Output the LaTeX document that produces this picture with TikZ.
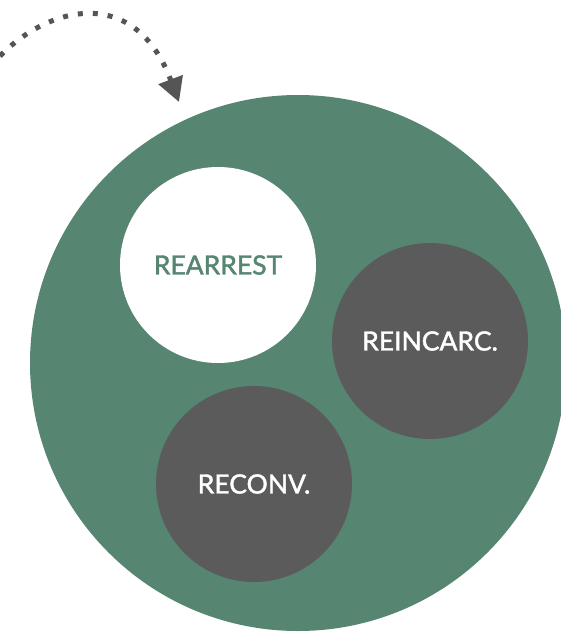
\documentclass[tikz,border=0pt]{standalone}
\usepackage{fontspec}
\setmainfont{Lato}
\newfontfamily\labelfont{Lato}[FakeBold=1.6]
\usetikzlibrary{arrows.meta}
\definecolor{poolgreen}{HTML}{568571}
\definecolor{darkgrey}{HTML}{5B5B5B}
\definecolor{arrowgrey}{HTML}{555555}
\tikzset{
    big/.style ={
        shape=circle,
        fill=poolgreen,
        minimum size=536pt,
        inner sep=0pt
    },
    light/.style ={
        shape=circle,
        fill=white,
        text=poolgreen,
        minimum size=196pt,
        inner sep=0pt,
        font=\labelfont\fontsize{26.5}{30}\selectfont
    },
    dark/.style ={
        shape=circle,
        fill=darkgrey,
        text=white,
        minimum size=196pt,
        inner sep=0pt,
        font=\labelfont\fontsize{26.5}{30}\selectfont
    }
}
\begin{document}
\begin{tikzpicture}[x=1pt,y=-1pt]
    \useasboundingbox (0,0) rectangle (561,632);
    \clip (0,0) rectangle (561,632);
    \node[big] (pool) at (298,363) {};
    \node[light] (rearrest) at (218,265) {REARREST};
    \node[dark] (reincarc) at (430,341) {REINCARC.};
    \node[dark] (reconv) at (254,484) {RECONV.};
    \coordinate (from) at (0,56);
    \coordinate (to) at (179,102);
    \draw[arrowgrey,line width=5pt,dash pattern=on 5pt off 10pt,
        -{Triangle[length=24pt,width=25pt]}]
        (from) .. controls (50,5) and (135,-15) .. (to);
\end{tikzpicture}
\end{document}
